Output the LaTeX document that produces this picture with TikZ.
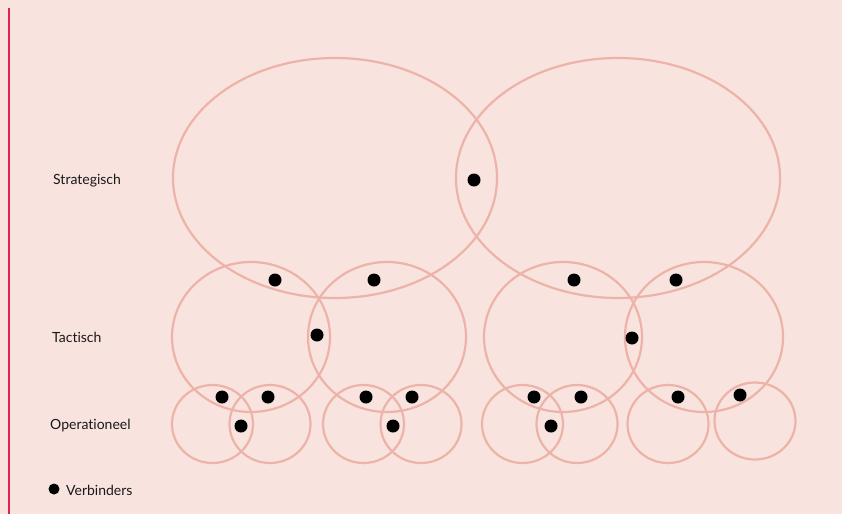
\documentclass[tikz,border=0pt]{standalone}
\usepackage{fontspec}
\setmainfont{Lato}[RawFeature={-liga,-dlig}]
\usetikzlibrary{shapes.geometric}
\definecolor{bg}{HTML}{F8E3DF}
\definecolor{ring}{HTML}{EDB3A8}
\definecolor{bar}{HTML}{E0234F}
\tikzset{
  ring/.style={draw=ring, line width=2.2pt, ellipse, minimum width=#1, inner sep=0pt},
  dot/.style={circle, fill=black, minimum size=13pt, inner sep=0pt},
  lbl/.style={anchor=west, font=\fontsize{14}{16}\selectfont, text=black!90, inner sep=0pt}
}
\begin{document}
\begin{tikzpicture}[x=1pt,y=-1pt]
\fill[bg] (0,0) rectangle (842,514);
\useasboundingbox (0,0) rectangle (842,514);
\coordinate (bartop) at (9,8);
\coordinate (barbot) at (9,514);
\draw[bar, line width=2pt] (bartop) -- (barbot);
% strategic
\node[ring=324pt, minimum height=240pt] (s1) at (335,178) {};
\node[ring=324pt, minimum height=240pt] (s2) at (618,178) {};
% tactical
\node[ring=158pt, minimum height=150pt] (t1) at (251,337) {};
\node[ring=158pt, minimum height=150pt] (t2) at (387,337) {};
\node[ring=158pt, minimum height=150pt] (t3) at (563,337) {};
\node[ring=158pt, minimum height=150pt] (t4) at (704,337) {};
% operational
\node[ring=81pt, minimum height=78pt] (o1) at (212.5,424) {};
\node[ring=81pt, minimum height=78pt] (o2) at (270,424) {};
\node[ring=81pt, minimum height=78pt] (o3) at (363.5,424) {};
\node[ring=81pt, minimum height=78pt] (o4) at (421,424) {};
\node[ring=81pt, minimum height=78pt] (o5) at (522.5,424) {};
\node[ring=81pt, minimum height=78pt] (o6) at (577,424) {};
\node[ring=81pt, minimum height=78pt] (o7) at (668,424) {};
\node[ring=81pt, minimum height=77pt] (o8) at (755,421) {};
% dots
\node[dot] (d1) at (474,180) {};
\node[dot] (d2) at (275,280) {};
\node[dot] (d3) at (374,280) {};
\node[dot] (d4) at (574,280) {};
\node[dot] (d5) at (676,280) {};
\node[dot] (d6) at (317,335) {};
\node[dot] (d7) at (632,338) {};
\node[dot] (d8) at (222,397) {};
\node[dot] (d9) at (268,397) {};
\node[dot] (d10) at (241,426) {};
\node[dot] (d11) at (366,397) {};
\node[dot] (d12) at (412,397) {};
\node[dot] (d13) at (393,426) {};
\node[dot] (d14) at (534,397) {};
\node[dot] (d15) at (581,397) {};
\node[dot] (d16) at (551,426) {};
\node[dot] (d17) at (678,397) {};
\node[dot] (d18) at (740,395) {};
% labels
\node[lbl] (ls) at (53,181) {Strategisch};
\node[lbl] (lt) at (52,337) {Tactisch};
\node[lbl] (lo) at (50,426) {Operationeel};
\node[dot, minimum size=11pt] (ld) at (54,489) {};
\node[lbl] (lv) at (66,490) {Verbinders};
\end{tikzpicture}
\end{document}
